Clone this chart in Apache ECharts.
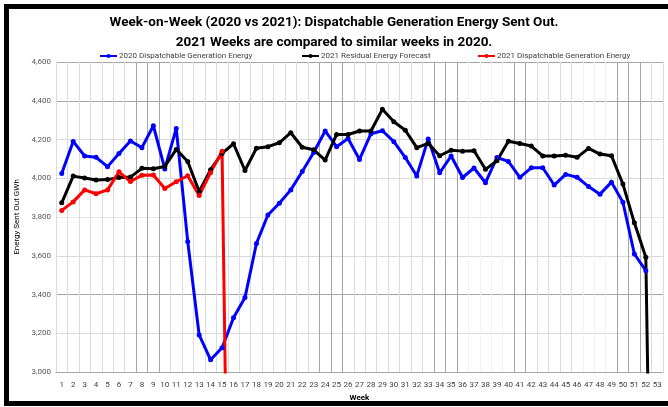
<!DOCTYPE html>
<html lang="en">
  <head>
    <meta charset="UTF-8" />
    <title>Week-on-Week</title>
    <script src="https://cdn.jsdelivr.net/npm/echarts@6/dist/echarts.min.js"></script>
    <style>
      body { margin: 0; background: #fff; }
      .echarts { width: 668px; height: 407px; }
      .frame {
        position: absolute; left: 4px; top: 4px;
        width: 700px; height: 392px;
        border: 5px solid #000; pointer-events: none;
      }
    </style>
  </head>
  <body>
    <div class="echarts"></div>
    <div class="frame"></div>
    <script>
      // weeks 1..53
      const weeks = []
      for (let i = 1; i <= 53; i++) weeks.push(String(i))

      // 2020 Dispatchable Generation Energy
      const gen2020 = [4025, 4190, 4115, 4108, 4060, 4128, 4192, 4158, 4271, 4048,
        4257, 3674, 3191, 3063, 3125, 3280, 3384, 3663, 3810, 3871,
        3940, 4035, 4133, 4244, 4163, 4205, 4097, 4230, 4245, 4189,
        4107, 4012, 4203, 4028, 4115, 4004, 4053, 3977, 4107, 4087,
        4005, 4054, 4054, 3965, 4020, 4005, 3957, 3918, 3980, 3876,
        3609, 3523, null]

      // 2021 Residual Energy Forecast
      const forecast2021 = [3873, 4011, 4001, 3991, 3993, 4004, 4006, 4051, 4049, 4061,
        4149, 4086, 3931, 4044, 4128, 4178, 4040, 4155, 4163, 4183,
        4235, 4160, 4147, 4094, 4226, 4226, 4244, 4244, 4356, 4292,
        4248, 4158, 4180, 4116, 4145, 4140, 4142, 4046, 4090, 4191,
        4179, 4166, 4115, 4115, 4119, 4108, 4154, 4125, 4116, 3970,
        3770, 3592, 0]

      // 2021 Dispatchable Generation Energy
      const gen2021 = [3834, 3878, 3940, 3920, 3940, 4033, 3983, 4016, 4017, 3947,
        3982, 4013, 3911, 4029, 4140, 0]

      const yTicks = [3000, 3200, 3400, 3600, 3800, 4000, 4200, 4400, 4600]

      // vertical gridline shades (Excel downscale look)
      const darkV = [7, 8, 9, 23, 24, 25, 33, 34, 35, 40, 41, 49, 50, 51]
      const faintV = [36, 37, 38, 39, 46, 47, 48]
      const vColors = []
      for (let k = 0; k <= 53; k++) {
        vColors.push(darkV.includes(k) ? '#a6a6a6' : faintV.includes(k) ? '#f2f2f2' : '#dcdcdc')
      }
      const hColors = ['#a6a6a6', '#d9d9d9', '#a6a6a6', '#d9d9d9', '#e6e6e6', '#d9d9d9', '#d9d9d9', '#a6a6a6', '#a6a6a6']

      const font = 'Roboto, "Liberation Sans", sans-serif'
      const myCharts = echarts.init(document.querySelector('.echarts'))

      const mkLine = (name, data, color) => ({
        name,
        type: 'line',
        data,
        symbol: 'circle',
        symbolSize: 5,
        lineStyle: { width: 3, color },
        itemStyle: { color },
        clip: true,
        animation: false
      })

      const legendBase = {
        top: 47,
        itemWidth: 17,
        itemHeight: 5,
        itemGap: 2,
        textStyle: { fontSize: 8, color: '#404040', fontFamily: font, padding: [0, 0, 0, -3] }
      }

      const option = {
        backgroundColor: '#fff',
        title: {
          text: 'Week-on-Week (2020 vs 2021): Dispatchable Generation Energy Sent Out.\n2021 Weeks are compared to similar weeks in 2020.',
          left: 'center',
          top: 8,
          textStyle: { fontSize: 13.5, fontWeight: 'bold', color: '#000', fontFamily: font, lineHeight: 20 }
        },
        legend: [
          Object.assign({ left: 94, data: ['2020 Dispatchable Generation Energy'] }, legendBase),
          Object.assign({ left: 296, data: ['2021 Residual Energy Forecast'] }, legendBase),
          Object.assign({ left: 472, data: ['2021 Dispatchable Generation Energy'] }, legendBase)
        ],
        grid: { left: 56, right: 5, top: 62, bottom: 35, containLabel: false },
        xAxis: {
          type: 'category',
          data: weeks,
          boundaryGap: true,
          name: 'Week',
          nameLocation: 'middle',
          nameGap: 16,
          nameTextStyle: { fontSize: 8, fontWeight: 'bold', color: '#000', fontFamily: font },
          axisLine: { lineStyle: { color: '#a6a6a6' } },
          axisTick: { show: false },
          axisLabel: { interval: 0, fontSize: 8, color: '#404040', fontFamily: font, margin: 9 },
          splitLine: { show: true, interval: 0, lineStyle: { color: vColors, width: 1 } }
        },
        yAxis: {
          type: 'value',
          min: 3000,
          max: 4600,
          interval: 200,
          name: 'Energy Sent Out GWh',
          nameLocation: 'middle',
          nameGap: 27,
          nameTextStyle: { fontSize: 8, color: '#000', fontFamily: font },
          axisLine: { show: false },
          axisTick: { show: false },
          axisLabel: {
            fontSize: 8, color: '#595959', fontFamily: font, margin: 5,
            formatter: v => v.toLocaleString('en-US')
          },
          splitLine: { lineStyle: { color: hColors, width: 1 } }
        },
        series: [
          mkLine('2020 Dispatchable Generation Energy', gen2020, '#0000ff'),
          mkLine('2021 Residual Energy Forecast', forecast2021, '#000000'),
          mkLine('2021 Dispatchable Generation Energy', gen2021, '#ff0000')
        ]
      }
      myCharts.setOption(option)
    </script>
  </body>
</html>
